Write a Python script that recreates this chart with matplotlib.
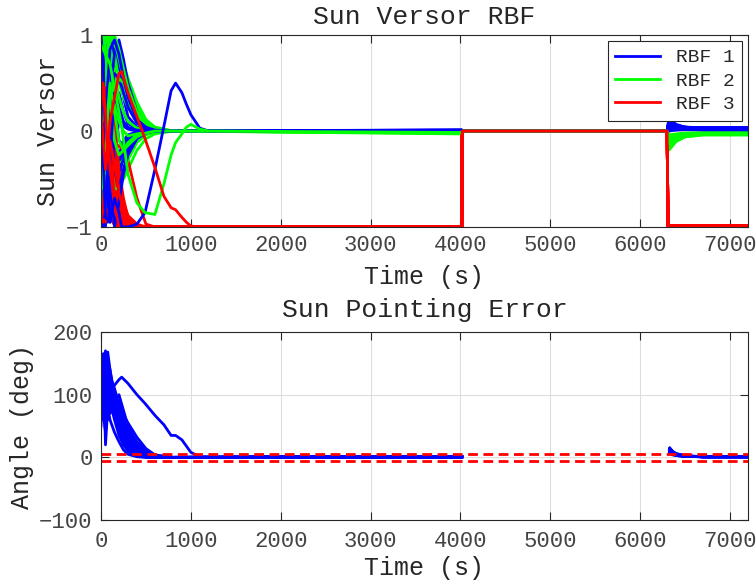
import numpy as np
import matplotlib
matplotlib.use("Agg")
import matplotlib.pyplot as plt

# ---- data (Monte Carlo runs) ----
# common time grid for the early transient (s)
T = [0, 25, 50, 75, 100, 150, 200, 250, 300, 400, 500, 600, 800]

blue = [
    [0.9, 0.3, -0.6, -0.9, -0.4, 0.3, 0.4, 0.2, 0.08, 0.02, 0.0, 0.0, 0.0],
    [-0.6, 0.5, 0.95, 0.6, 0.0, -0.5, -0.35, -0.15, -0.06, -0.02, 0.0, 0.0, 0.0],
    [0.1, -0.8, -1.0, -0.4, 0.5, 0.95, 0.7, 0.35, 0.15, 0.04, 0.01, 0.0, 0.0],
    [-1.0, -0.7, 0.1, 0.8, 1.0, 0.6, 0.25, 0.1, 0.04, 0.01, 0.0, 0.0, 0.0],
    [0.6, 0.95, 0.4, -0.5, -0.95, -0.6, -0.25, -0.1, -0.04, -0.01, 0.0, 0.0, 0.0],
    [0.3, -0.3, -0.9, -0.95, -0.6, -0.9, -0.5, -0.25, -0.1, -0.03, -0.01, 0.0, 0.0],
    [-0.2, 0.7, 0.9, 0.2, -0.7, -0.2, 0.1, 0.05, 0.02, 0.0, 0.0, 0.0, 0.0],
    [0.95, 0.8, 0.2, -0.3, 0.3, 0.6, 0.55, 0.4, 0.25, 0.08, 0.02, 0.0, 0.0],
    [-0.9, -1.0, -0.5, 0.3, 0.7, -0.1, -0.4, -0.3, -0.18, -0.06, -0.02, 0.0, 0.0],
    [0.4, 0.0, -0.5, -0.2, 0.4, 0.8, 0.95, 0.75, 0.5, 0.2, 0.06, 0.02, 0.0],
    [-0.3, -0.9, -0.6, 0.2, 0.6, 0.3, -0.1, -0.15, -0.1, -0.03, -0.01, 0.0, 0.0],
    [0.7, 0.1, 0.6, 0.9, 0.5, -0.4, -0.6, -0.4, -0.22, -0.07, -0.02, 0.0, 0.0],
    [-0.7, 0.2, 0.8, 0.3, -0.5, -1.0, -0.75, -0.45, -0.25, -0.08, -0.02, 0.0, 0.0],
    [0.0, 0.6, -0.2, -0.8, -0.3, 0.4, 0.2, 0.08, 0.03, 0.01, 0.0, 0.0, 0.0],
    [1.0, 0.7, -0.1, 0.5, 0.85, 0.95, 0.8, 0.55, 0.35, 0.12, 0.04, 0.01, 0.0],
]
green = [
    [1.0, 0.95, 0.9, 0.95, 0.9, 0.8, 0.65, 0.5, 0.35, 0.15, 0.05, 0.01, 0.0],
    [0.8, 0.98, 1.0, 0.9, 0.8, 0.85, 0.75, 0.6, 0.45, 0.25, 0.1, 0.04, 0.0],
    [0.5, 0.9, 0.95, 0.7, 0.5, 0.6, 0.5, 0.35, 0.25, 0.1, 0.03, 0.01, 0.0],
    [0.9, 0.6, 0.2, 0.4, 0.7, 0.75, 0.55, 0.4, 0.28, 0.12, 0.05, 0.02, 0.0],
    [-0.4, 0.3, 0.8, 0.95, 0.9, 0.6, 0.35, 0.2, 0.1, 0.03, 0.01, 0.0, 0.0],
    [0.7, 0.3, -0.3, -0.6, -0.4, -0.5, -0.55, -0.5, -0.4, -0.2, -0.08, -0.03, 0.0],
    [0.95, 1.0, 0.7, 0.3, 0.1, -0.2, -0.35, -0.3, -0.2, -0.08, -0.02, 0.0, 0.0],
    [0.2, -0.5, -0.8, -0.5, 0.0, 0.4, 0.55, 0.5, 0.4, 0.2, 0.07, 0.02, 0.0],
    [1.0, 0.9, 0.95, 1.0, 0.98, 0.9, 0.8, 0.7, 0.55, 0.3, 0.12, 0.04, 0.0],
    [0.6, 0.8, 0.6, 0.2, -0.3, -0.6, -0.6, -0.45, -0.3, -0.12, -0.04, -0.01, 0.0],
    [0.3, 0.7, 0.98, 0.85, 0.6, 0.3, 0.1, 0.0, -0.05, -0.03, -0.01, 0.0, 0.0],
    [-0.8, -0.4, 0.3, 0.7, 0.95, 1.0, 0.85, 0.65, 0.45, 0.2, 0.08, 0.02, 0.0],
    [0.85, 0.95, 0.8, 0.6, 0.3, -0.1, -0.25, -0.2, -0.12, -0.04, -0.01, 0.0, 0.0],
    [0.4, 0.1, 0.5, 0.9, 1.0, 0.95, 0.75, 0.55, 0.4, 0.18, 0.06, 0.02, 0.0],
    [-0.2, -0.6, -0.3, 0.2, 0.5, 0.2, -0.1, -0.2, -0.15, -0.06, -0.02, 0.0, 0.0],
]
red = [
    [0.8, 0.2, -0.6, -0.9, -0.7, -0.95, -1.0, -1.0, -1.0, -1.0, -1.0, -1.0, -1.0],
    [0.5, 0.85, 0.3, -0.4, -0.9, -0.98, -1.0, -1.0, -1.0, -1.0, -1.0, -1.0, -1.0],
    [-0.3, 0.4, 0.7, 0.2, -0.5, -0.9, -0.98, -1.0, -1.0, -1.0, -1.0, -1.0, -1.0],
    [0.2, -0.5, -0.1, 0.6, 0.3, -0.6, -0.9, -0.98, -1.0, -1.0, -1.0, -1.0, -1.0],
    [-0.8, -0.3, 0.2, -0.2, -0.7, -0.85, -0.95, -1.0, -1.0, -1.0, -1.0, -1.0, -1.0],
    [0.9, 0.6, 0.0, -0.5, -0.3, -0.5, -0.8, -0.95, -1.0, -1.0, -1.0, -1.0, -1.0],
    [0.1, -0.7, -0.95, -0.6, -0.2, -0.4, -0.7, -0.9, -0.98, -1.0, -1.0, -1.0, -1.0],
    [-0.5, 0.2, 0.5, 0.3, 0.0, -0.2, -0.15, -0.2, -0.3, -0.7, -0.97, -1.0, -1.0],
    [0.6, 0.0, -0.4, 0.1, 0.4, 0.1, -0.4, -0.7, -0.9, -0.99, -1.0, -1.0, -1.0],
    [-0.9, -0.95, -0.6, -0.1, 0.2, -0.2, -0.55, -0.75, -0.88, -0.97, -1.0, -1.0, -1.0],
    [-0.6, 0.1, 0.8, 0.5, -0.1, -0.7, -0.95, -1.0, -1.0, -1.0, -1.0, -1.0, -1.0],
    [0.3, 0.75, 0.5, -0.2, -0.6, -0.3, -0.6, -0.85, -0.95, -1.0, -1.0, -1.0, -1.0],
    [-0.95, -0.8, -0.4, 0.1, -0.3, -0.8, -0.97, -1.0, -1.0, -1.0, -1.0, -1.0, -1.0],
    [0.7, 0.3, 0.45, 0.1, -0.4, -0.75, -0.9, -0.97, -1.0, -1.0, -1.0, -1.0, -1.0],
    [0.0, 0.5, 0.2, -0.3, -0.1, -0.35, -0.65, -0.82, -0.93, -0.99, -1.0, -1.0, -1.0],
]
angle = [
    [150, 120, 160, 140, 110, 90, 60, 40, 25, 8, 2, 0, 0],
    [100, 165, 130, 150, 120, 80, 55, 35, 20, 6, 1, 0, 0],
    [160, 140, 100, 130, 100, 70, 90, 60, 40, 15, 4, 1, 0],
    [80, 155, 170, 120, 90, 60, 35, 20, 10, 3, 0, 0, 0],
    [120, 90, 150, 168, 140, 100, 70, 50, 35, 15, 5, 1, 0],
    [140, 165, 20, 80, 60, 40, 25, 12, 5, 1, 0, 0, 0],
    [60, 110, 140, 100, 70, 90, 100, 75, 50, 22, 8, 2, 0],
    [130, 100, 70, 110, 130, 95, 65, 45, 30, 10, 3, 0, 0],
    [90, 130, 150, 160, 125, 75, 45, 25, 12, 4, 1, 0, 0],
    [110, 70, 40, 90, 130, 110, 85, 60, 40, 18, 6, 1, 0],
    [70, 140, 160, 130, 95, 70, 50, 35, 22, 8, 2, 0, 0],
    [165, 150, 110, 90, 110, 105, 80, 62, 45, 25, 10, 3, 0],
    [100, 60, 120, 155, 140, 90, 55, 30, 16, 5, 1, 0, 0],
    [145, 160, 140, 100, 80, 65, 75, 68, 55, 32, 14, 4, 0],
    [50, 120, 100, 60, 90, 80, 55, 38, 25, 9, 2, 0, 0],
]

# outlier run (slow convergence)
T_out = [0, 50, 100, 150, 200, 230, 300, 400, 490, 600, 700, 780, 830, 900, 950, 1000, 1100, 1200]
blue_out = [0.3, -0.9, -0.95, -0.7, -0.85, -1.0, -1.0, -0.97, -0.85, -0.4, 0.05, 0.42, 0.5, 0.4, 0.28, 0.17, 0.03, 0.0]
green_out = [0.9, 0.8, 0.7, 0.45, 0.2, 0.05, -0.45, -0.75, -0.85, -0.87, -0.55, -0.25, -0.12, -0.03, 0.04, 0.07, 0.02, 0.0]
red_out = [0.2, -0.4, 0.1, 0.35, 0.6, 0.62, 0.4, 0.15, -0.08, -0.38, -0.68, -0.8, -0.82, -0.9, -0.95, -0.99, -1.0, -1.0]
angle_out = [90, 120, 105, 115, 124, 128, 118, 100, 86, 67, 52, 35, 35, 28, 18, 8, 1, 0]

# steady values before eclipse and transient after eclipse
blue_ss = [0.01, 0.0, 0.005, -0.005, 0.01, 0.0, 0.008, -0.003, 0.004, 0.0,
           0.006, 0.012, -0.002, 0.003, 0.007, 0.006]
green_ss = [-0.01, -0.02, 0.0, -0.015, -0.005, -0.02, -0.01, 0.0, -0.025, -0.01,
            -0.015, -0.03, -0.005, -0.02, -0.012, -0.015]
angle_ss = [1, 0.5, 1.5, 0.8, 1.2, 0.6, 1, 0.4, 1.3, 0.9, 1.1, 0.7, 1.4, 0.5, 1.0, 1.1]

t_ecl_in = 4015
t_ecl_out = 6300
T_post = [6300, 6320, 6400, 6500, 6700, 7200]
blue_post = [
    [0.0, 0.12, 0.06, 0.04, 0.03, 0.03], [0.0, 0.08, 0.05, 0.035, 0.03, 0.03],
    [0.0, 0.05, 0.035, 0.03, 0.025, 0.025], [0.0, 0.1, 0.06, 0.04, 0.035, 0.035],
    [0.0, 0.03, 0.025, 0.02, 0.02, 0.02], [0.0, 0.0, 0.01, 0.015, 0.015, 0.015],
    [0.0, 0.07, 0.045, 0.035, 0.03, 0.03], [0.0, 0.13, 0.07, 0.04, 0.03, 0.03],
    [0.0, 0.02, 0.015, 0.015, 0.01, 0.01], [0.0, 0.09, 0.055, 0.04, 0.03, 0.03],
    [0.0, 0.04, 0.03, 0.025, 0.02, 0.02], [0.0, 0.11, 0.06, 0.04, 0.035, 0.035],
    [0.0, 0.06, 0.04, 0.03, 0.025, 0.025], [0.0, 0.1, 0.05, 0.035, 0.03, 0.03],
    [0.0, 0.035, 0.025, 0.02, 0.015, 0.015], [0.0, 0.08, 0.045, 0.035, 0.03, 0.03],
]
green_post = [
    [0.0, -0.17, -0.09, -0.05, -0.03, -0.03], [0.0, -0.12, -0.07, -0.04, -0.03, -0.03],
    [0.0, -0.08, -0.05, -0.03, -0.02, -0.02], [0.0, -0.2, -0.11, -0.06, -0.04, -0.04],
    [0.0, -0.05, -0.04, -0.03, -0.02, -0.02], [0.0, -0.1, -0.06, -0.04, -0.03, -0.03],
    [0.0, -0.15, -0.08, -0.05, -0.03, -0.03], [0.0, -0.06, -0.04, -0.03, -0.02, -0.02],
    [0.0, -0.18, -0.1, -0.06, -0.04, -0.04], [0.0, -0.04, -0.03, -0.02, -0.02, -0.02],
    [0.0, -0.11, -0.06, -0.04, -0.03, -0.03], [0.0, -0.14, -0.08, -0.05, -0.035, -0.035],
    [0.0, -0.07, -0.045, -0.03, -0.025, -0.025], [0.0, -0.16, -0.09, -0.05, -0.03, -0.03],
    [0.0, -0.09, -0.05, -0.035, -0.025, -0.025], [0.0, -0.13, -0.07, -0.045, -0.03, -0.03],
]
T_post_ang = [6330, 6360, 6400, 6500, 6700, 7200]
angle_post = [
    [15, 10, 6, 2, 1, 1], [12, 8, 5, 2, 1, 1], [9, 6, 4, 2, 1, 1], [14, 9, 6, 3, 1, 1],
    [6, 4, 3, 1.5, 1, 1], [10, 7, 4, 2, 1, 1], [13, 9, 5, 2, 1, 1], [8, 5, 3, 1.5, 1, 1],
    [11, 7, 4, 2, 1, 1], [7, 5, 3, 1.5, 1, 1], [12, 8, 5, 2, 1, 1], [10, 6, 4, 2, 1, 1],
    [14, 9, 5, 2, 1, 1], [9, 6, 4, 1.5, 1, 1], [11, 7, 4, 2, 1, 1], [13, 8, 5, 2, 1, 1],
]
err_bound = 5  # deg

# ---- style ----
txt = '#262626'
plt.rcParams['font.family'] = ['Liberation Mono', 'DejaVu Sans Mono']
plt.rcParams['text.color'] = txt
plt.rcParams['axes.labelcolor'] = txt
plt.rcParams['xtick.color'] = txt
plt.rcParams['ytick.color'] = txt
plt.rcParams['xtick.labelcolor'] = '#444444'
plt.rcParams['ytick.labelcolor'] = '#444444'

fig = plt.figure(figsize=(7.56, 5.85), dpi=100)
ax1 = fig.add_axes([0.1336, 0.612, 0.8558, 0.328])
ax2 = fig.add_axes([0.1336, 0.111, 0.8558, 0.3215])

runs_b = blue + [blue_out]
runs_g = green + [green_out]
runs_r = red + [red_out]
runs_a = angle + [angle_out]
times = [T] * len(blue) + [T_out]

lw = 2.0
for i in range(len(runs_b)):
    t = list(times[i]) + [t_ecl_in, t_ecl_in + 5, t_ecl_out] + T_post[1:]
    vb = runs_b[i] + [blue_ss[i], 0.0, 0.0] + blue_post[i][1:]
    vg = runs_g[i] + [green_ss[i], 0.0, 0.0] + green_post[i][1:]
    tr = list(times[i]) + [t_ecl_in, t_ecl_in + 5, t_ecl_out, t_ecl_out + 10, 7200]
    vr = runs_r[i] + [-1.0, 0.0, 0.0, -0.99, -0.99]
    lb, = ax1.plot(t, vb, color='b', lw=lw)
    lg, = ax1.plot(t, vg, color=(0, 1, 0), lw=lw)
    lr, = ax1.plot(tr, vr, color='r', lw=lw)

    ta = list(times[i]) + [t_ecl_in, t_ecl_in + 5] + T_post_ang
    va = runs_a[i] + [angle_ss[i], np.nan] + angle_post[i]
    ax2.plot(ta, va, color='b', lw=lw)

ax2.axhline(err_bound, color='r', lw=lw, ls=(0, (3.5, 2)))
ax2.axhline(-err_bound, color='r', lw=lw, ls=(0, (3.5, 2)))

leg = ax1.legend([lb, lg, lr], ['RBF 1', 'RBF 2', 'RBF 3'], loc='upper right',
                 fontsize=14, fancybox=False, framealpha=1, edgecolor=txt,
                 handlelength=2.3, borderaxespad=0.3, labelspacing=0.3)
leg.get_frame().set_linewidth(0.8)

for ax in (ax1, ax2):
    ax.set_xlim(0, 7200)
    ax.set_xticks(range(0, 7001, 1000))
    ax.grid(True, color='#dedede', lw=0.8)
    ax.set_axisbelow(True)
    ax.tick_params(direction='in', length=6, width=0.8, top=True, right=True,
                   labelsize=16, pad=6)
    for s in ax.spines.values():
        s.set_color(txt)
        s.set_linewidth(0.8)

ax1.set_xlabel('Time (s)', fontsize=18, labelpad=6)
ax2.tick_params(axis='x', pad=8)
ax2.set_xlabel('Time (s)', fontsize=18, labelpad=3)

ax1.set_ylim(-1, 1)
ax1.set_yticks([-1, 0, 1])
ax1.set_ylabel('Sun Versor', fontsize=18)
ax1.set_title('Sun Versor RBF', fontsize=19, pad=8)

ax2.set_ylim(-100, 200)
ax2.set_yticks([-100, 0, 100, 200])
ax2.set_ylabel('Angle (deg)', fontsize=18)
ax2.set_title('Sun Pointing Error', fontsize=19, pad=11)

fig.savefig('out.png', dpi=100)
